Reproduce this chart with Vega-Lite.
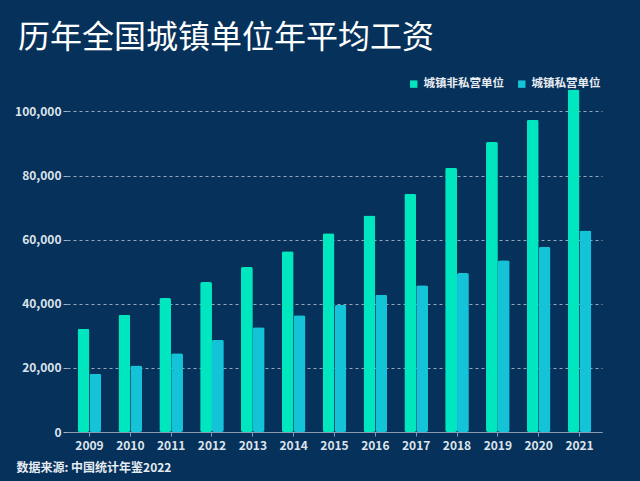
{
  "$schema": "https://vega.github.io/schema/vega-lite/v6.json",
  "autosize": "none",
  "width": 535,
  "height": 343,
  "padding": {"left": 67, "top": 89, "right": 38, "bottom": 49},
  "background": "#06315a",
  "config": {
    "view": {"stroke": null},
    "font": "Noto Sans CJK SC"
  },
  "title": {
    "text": "历年全国城镇单位年平均工资",
    "anchor": "start",
    "frame": "group",
    "dx": -49,
    "offset": 23,
    "fontSize": 32,
    "fontWeight": "normal",
    "color": "#ffffff",
    "font": "Noto Sans CJK SC"
  },
  "data": {
    "values": [
      {"year": "2009", "type": "城镇非私营单位", "wage": 32244},
      {"year": "2010", "type": "城镇非私营单位", "wage": 36539},
      {"year": "2011", "type": "城镇非私营单位", "wage": 41799},
      {"year": "2012", "type": "城镇非私营单位", "wage": 46769},
      {"year": "2013", "type": "城镇非私营单位", "wage": 51483},
      {"year": "2014", "type": "城镇非私营单位", "wage": 56360},
      {"year": "2015", "type": "城镇非私营单位", "wage": 62029},
      {"year": "2016", "type": "城镇非私营单位", "wage": 67569},
      {"year": "2017", "type": "城镇非私营单位", "wage": 74318},
      {"year": "2018", "type": "城镇非私营单位", "wage": 82413},
      {"year": "2019", "type": "城镇非私营单位", "wage": 90501},
      {"year": "2020", "type": "城镇非私营单位", "wage": 97379},
      {"year": "2021", "type": "城镇非私营单位", "wage": 106837},
      {"year": "2009", "type": "城镇私营单位", "wage": 18199},
      {"year": "2010", "type": "城镇私营单位", "wage": 20759},
      {"year": "2011", "type": "城镇私营单位", "wage": 24556},
      {"year": "2012", "type": "城镇私营单位", "wage": 28752},
      {"year": "2013", "type": "城镇私营单位", "wage": 32706},
      {"year": "2014", "type": "城镇私营单位", "wage": 36390},
      {"year": "2015", "type": "城镇私营单位", "wage": 39589},
      {"year": "2016", "type": "城镇私营单位", "wage": 42833},
      {"year": "2017", "type": "城镇私营单位", "wage": 45761},
      {"year": "2018", "type": "城镇私营单位", "wage": 49575},
      {"year": "2019", "type": "城镇私营单位", "wage": 53604},
      {"year": "2020", "type": "城镇私营单位", "wage": 57727},
      {"year": "2021", "type": "城镇私营单位", "wage": 62884}
    ]
  },
  "mark": {"type": "bar", "cornerRadius": 2},
  "encoding": {
    "x": {
      "field": "year",
      "type": "nominal",
      "scale": {"paddingInner": 0.42, "paddingOuter": 0.26},
      "axis": {
        "title": "数据来源: 中国统计年鉴2022",
        "titleAnchor": "start",
        "titleX": -51,
        "titleY": 35,
        "titleBaseline": "middle",
        "titleColor": "#e6ecf2",
        "titleFontSize": 12,
        "titleFontWeight": "bold",
        "labelAngle": 0,
        "labelColor": "#dde4ec",
        "labelFontSize": 12,
        "labelFontWeight": "bold",
        "labelPadding": 4,
        "domainColor": "#8c9cb0",
        "tickColor": "#8c9cb0",
        "tickSize": 4
      }
    },
    "xOffset": {
      "field": "type",
      "type": "nominal",
      "sort": ["城镇非私营单位", "城镇私营单位"],
      "scale": {"paddingInner": 0}
    },
    "y": {
      "field": "wage",
      "type": "quantitative",
      "scale": {"domain": [0, 107000], "nice": false},
      "axis": {
        "title": null,
        "values": [0, 20000, 40000, 60000, 80000, 100000],
        "format": ",.0f",
        "labelColor": "#dde4ec",
        "labelFontSize": 12,
        "labelFontWeight": "bold",
        "domain": false,
        "tickColor": "#a9b6c6",
        "tickSize": 4,
        "labelPadding": 2,
        "grid": true,
        "gridColor": "#a9b6c6",
        "gridDash": [3, 3],
        "gridOpacity": 0.9
      }
    },
    "color": {
      "field": "type",
      "type": "nominal",
      "sort": ["城镇非私营单位", "城镇私营单位"],
      "scale": {"domain": ["城镇非私营单位", "城镇私营单位"], "range": ["#00e6bf", "#14c3d7"]},
      "legend": {
        "title": null,
        "orient": "none",
        "direction": "horizontal",
        "legendX": 341,
        "legendY": -11,
        "symbolType": "square",
        "symbolSize": 55,
        "labelColor": "#e6ecf2",
        "labelFontSize": 11.5,
        "labelFontWeight": "bold",
        "columnPadding": 12
      }
    }
  }
}
